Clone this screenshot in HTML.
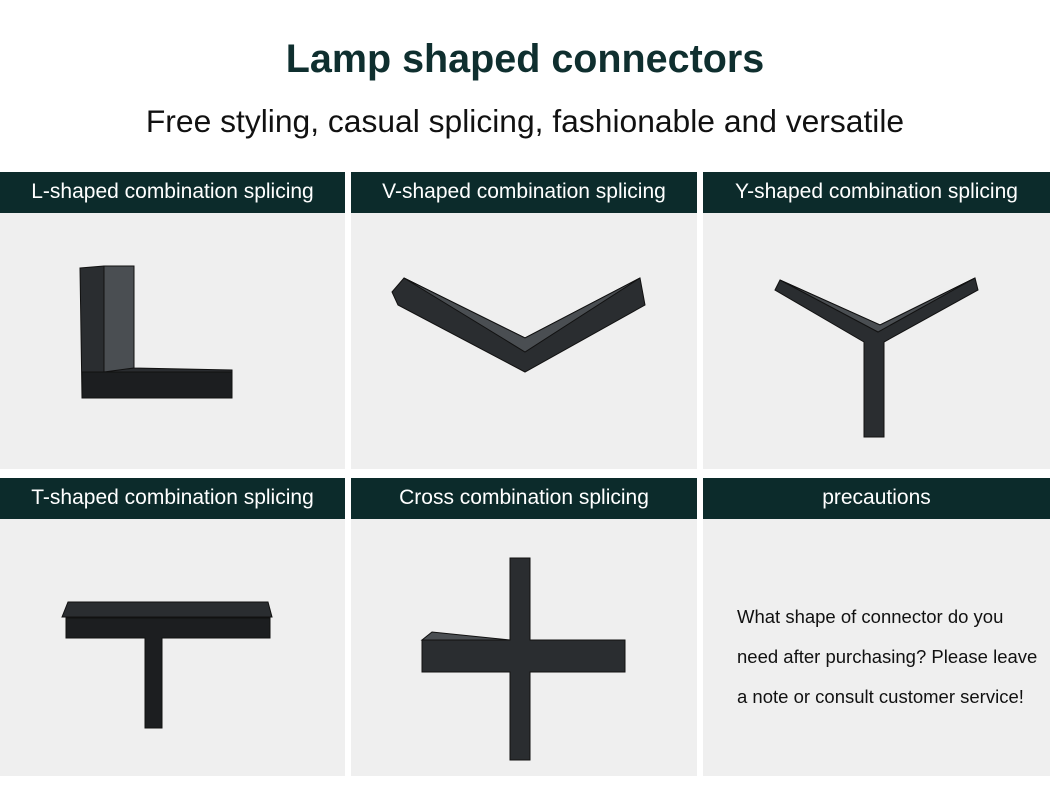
<!DOCTYPE html>
<html><head><meta charset="utf-8"><style>
body{margin:0;width:1050px;height:803px;background:#fff;font-family:"Liberation Sans",Arial,sans-serif;position:relative;overflow:hidden}
.t{position:absolute;left:0;width:1050px;text-align:center}
.h{position:absolute;height:41px;background:#0c2b2b;color:#fff;font-size:21px;line-height:40px;text-align:center}
.p{position:absolute;background:#efefef}
svg{position:absolute;left:0;top:0}
</style></head><body>
<div class="t" style="top:37px;font-size:39.5px;font-weight:bold;color:#0f2f2f">Lamp shaped connectors</div>
<div class="t" style="top:103px;font-size:31.8px;color:#111">Free styling, casual splicing, fashionable and versatile</div>

<div class="h" style="left:0;top:172px;width:345px">L-shaped combination splicing</div>
<div class="h" style="left:351px;top:172px;width:346px">V-shaped combination splicing</div>
<div class="h" style="left:703px;top:172px;width:347px">Y-shaped combination splicing</div>
<div class="p" style="left:0;top:213px;width:345px;height:256px"></div>
<div class="p" style="left:351px;top:213px;width:346px;height:256px"></div>
<div class="p" style="left:703px;top:213px;width:347px;height:256px"></div>

<div class="h" style="left:0;top:478px;width:345px">T-shaped combination splicing</div>
<div class="h" style="left:351px;top:478px;width:346px">Cross combination splicing</div>
<div class="h" style="left:703px;top:478px;width:347px">precautions</div>
<div class="p" style="left:0;top:519px;width:345px;height:257px"></div>
<div class="p" style="left:351px;top:519px;width:346px;height:257px"></div>
<div class="p" style="left:703px;top:519px;width:347px;height:257px"></div>

<svg width="1050" height="803">
<g fill="#2a2d30" stroke="#111" stroke-width="1">
<polygon points="80,268 104,266 134,266 134,368 232,370 232,398 82,398"/>
<polygon points="104,266 134,266 134,368 104,372" fill="#4a4e52"/>
<polygon points="82,372 232,372 232,398 82,398" fill="#1c1e20"/>
<polygon points="392,292 404,278 525,338 640,278 645,305 525,372 398,305"/>
<polygon points="404,278 525,338 640,278 525,352" fill="#4a4e52"/>
<polygon points="775,290 780,280 880,325 975,278 978,290 884,342 884,437 864,437 864,342" />
<polygon points="780,280 880,325 975,278 878,332" fill="#4a4e52"/>
<polygon points="62,617 68,602 268,602 272,617"/>
<polygon points="66,618 270,618 270,638 162,638 162,728 145,728 145,638 66,638" fill="#1c1e20"/>
<polygon points="510,558 530,558 530,640 625,640 625,672 530,672 530,760 510,760 510,672 422,672 422,640 510,640"/>
<polygon points="422,640 432,632 510,640" fill="#4a4e52"/>
</g>
</svg>
<div style="position:absolute;left:737px;top:597px;font-size:18.5px;line-height:40px;color:#111;white-space:nowrap">What shape of connector do you<br>need after purchasing? Please leave<br>a note or consult customer service!</div>
</body></html>
